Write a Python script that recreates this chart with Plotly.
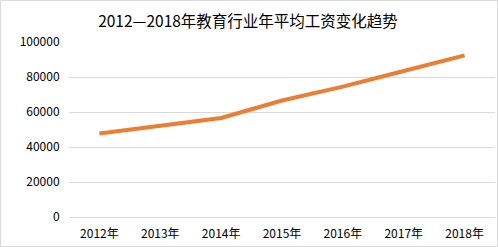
import plotly.graph_objects as go

years = ["2012年", "2013年", "2014年", "2015年", "2016年", "2017年", "2018年"]
wages = [47734, 51950, 56580, 66592, 74498, 83412, 92383]
y_ticks = [0, 20000, 40000, 60000, 80000, 100000]

W, H = 498, 247
ml, mr, mt, mb = 69, 3, 42, 30
pw, ph = W - ml - mr, H - mt - mb

fig = go.Figure(go.Scatter(
    x=years, y=wages, mode="lines",
    line=dict(color="#ED7D31", width=4),
    hoverinfo="skip",
))

font = "Microsoft YaHei, Noto Sans CJK SC, sans-serif"
fig.update_layout(
    width=W, height=H,
    margin=dict(l=ml, r=mr, t=mt, b=mb),
    paper_bgcolor="white", plot_bgcolor="white",
    showlegend=False,
    font=dict(family=font, size=12, color="#333333"),
    title=dict(text="2012—2018年教育行业年平均工资变化趋势", x=0.498, xref="container",
               y=1 - 22 / H, yref="container", yanchor="middle", xanchor="center",
               font=dict(family=font, size=15.5, color="#000000")),
    xaxis=dict(type="category", range=[-0.5, 6.5], showgrid=False,
               showline=True, linecolor="#d9d9d9", linewidth=1,
               ticks="outside", ticklen=6, tickcolor="rgba(0,0,0,0)",
               tickfont=dict(size=12, color="#000000")),
    yaxis=dict(range=[0, 100000], tickvals=y_ticks, showgrid=True,
               gridcolor="#d9d9d9", gridwidth=1, zeroline=False,
               ticks="outside", ticklen=6, tickcolor="rgba(0,0,0,0)",
               tickformat="d", tickfont=dict(size=12, color="#000000")),
    shapes=[dict(type="rect", xref="paper", yref="paper",
                 x0=(0.5 - ml) / pw, x1=(W - 0.5 - ml) / pw,
                 y0=(0.5 - mb) / ph, y1=(H - 0.5 - mb) / ph,
                 line=dict(color="#d9d9d9", width=1), layer="below")],
)

fig.write_html("out.html")
